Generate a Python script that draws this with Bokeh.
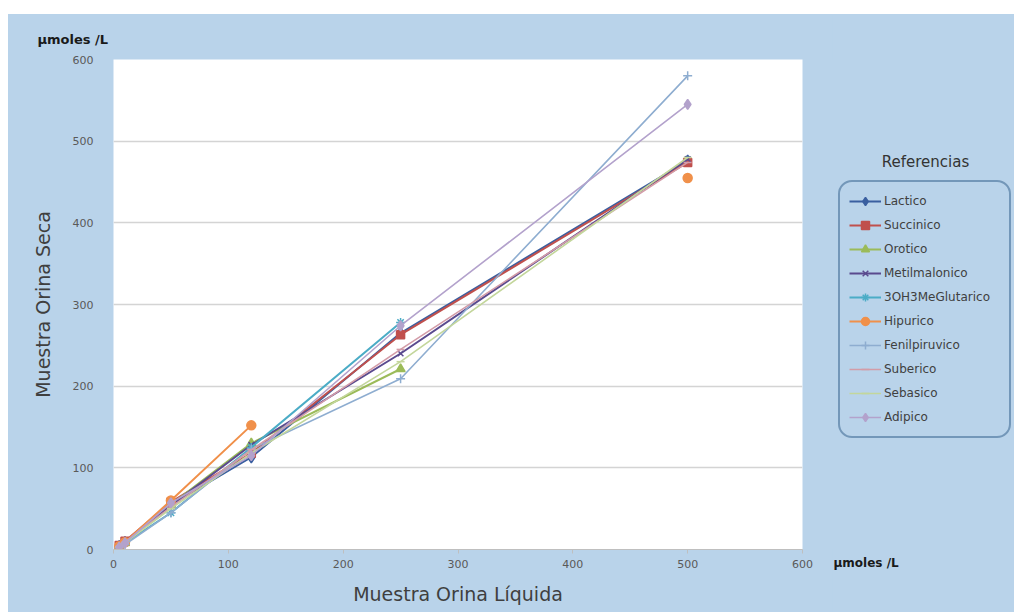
import numpy as np
from bokeh.plotting import figure
from bokeh.layouts import row
from bokeh.models import (Range1d, Legend, LegendItem, Label, ColumnDataSource,
                          FixedTicker)
from bokeh.embed import file_html
from bokeh.resources import INLINE

nan = np.nan

# ---- data ----
x_liquida = [5, 10, 50, 120, 250, 500]
lactico = [4, 9, 55, 113, 265, 476]
succinico = [5, 10, 58, 118, 263, 474]
orotico = [3, 8, 55, 130, 221, nan]
metilmalonico = [4, 9, 54, 128, 240, 478]
oh3meglutarico = [3, 8, 45, 125, 278, nan]
hipurico = [4, 9, 60, 152, nan, 455]
fenilpiruvico = [2, 6, 45, 123, 209, 580]
suberico = [4, 9, 52, 122, 245, 474]
sebasico = [3, 8, 50, 118, 230, 480]
adipico = [3, 8, 57, 115, 274, 545]

series_names = ["Lactico", "Succinico", "Orotico", "Metilmalonico", "3OH3MeGlutarico",
                "Hipurico", "Fenilpiruvico", "Suberico", "Sebasico", "Adipico"]
series_values = [lactico, succinico, orotico, metilmalonico, oh3meglutarico,
                 hipurico, fenilpiruvico, suberico, sebasico, adipico]
ticks = [0, 100, 200, 300, 400, 500, 600]
unit_text = "µmoles /L"

# ---- styles ----
colors = ["#3A5FA0", "#C0504D", "#9BBB59", "#5A4A8E", "#4BACC6",
          "#F0904A", "#8EADD0", "#D39CA8", "#C3D69B", "#B3A2CC"]
markers = ["diamond", "square", "triangle", "x", "asterisk",
           "circle", "cross", "dash", "dash", "diamond"]
msizes = [11, 8, 9, 8, 9, 9, 9, 8, 8, 10]
lwidths = [2, 2, 2, 2, 2, 2, 1.6, 1.6, 1.6, 1.6]

BG = "#B9D3EA"
H = 598

# ---------------- main chart ----------------
p = figure(width=824, height=H,
           x_range=Range1d(0, 600), y_range=Range1d(0, 600),
           output_backend="svg", toolbar_location=None,
           min_border_left=105, min_border_right=30,
           min_border_top=45, min_border_bottom=63,
           border_fill_color=BG, background_fill_color="white",
           outline_line_color=None)

p.title.text = unit_text
p.title.align = "left"
p.title.offset = -76
p.title.standoff = 26
p.title.text_font = "DejaVu Sans"
p.title.text_font_size = "13px"
p.title.text_font_style = "bold"
p.title.text_color = "#1A1A1A"

for ax in (p.xaxis[0], p.yaxis[0]):
    ax.ticker = FixedTicker(ticks=ticks)
    ax.minor_tick_line_color = None
    ax.major_label_text_font = "DejaVu Sans"
    ax.major_label_text_font_size = "11px"
    ax.major_label_text_color = "#595959"
    ax.axis_label_text_font = "DejaVu Sans"
    ax.axis_label_text_font_size = "19px"
    ax.axis_label_text_font_style = "normal"
    ax.axis_label_text_color = "#3F3F3F"

p.xaxis.axis_label = "Muestra Orina Líquida"
p.xaxis.axis_line_color = "#BFBFBF"
p.xaxis.major_tick_line_color = "#BFBFBF"
p.xaxis.major_tick_out = 4
p.xaxis.major_tick_in = 0
p.xaxis.major_label_standoff = 6
p.xaxis.axis_label_standoff = 12

p.yaxis.axis_label = "Muestra Orina Seca"
p.yaxis.axis_line_color = None
p.yaxis.major_tick_line_color = None
p.yaxis.major_label_standoff = 14
p.yaxis.axis_label_standoff = 16

p.xgrid.grid_line_color = None
p.ygrid.grid_line_color = "#D4D4D4"
p.ygrid.grid_line_width = 1.5

# ---------------- legend panel (right side) ----------------
q = figure(width=182, height=H,
           x_range=Range1d(1000, 1182), y_range=p.y_range,
           output_backend="svg", toolbar_location=None,
           min_border_left=0, min_border_right=0,
           min_border_top=0, min_border_bottom=0,
           x_axis_location=None, y_axis_location=None,
           border_fill_color=BG, background_fill_color=None,
           outline_line_color=None)
q.xgrid.grid_line_color = None
q.ygrid.grid_line_color = None

items = []
for name, vals, c, m, ms, lw in zip(series_names, series_values, colors, markers, msizes, lwidths):
    src = ColumnDataSource(dict(x=x_liquida, y=vals))
    p.line("x", "y", source=src, line_color=c, line_width=lw)
    p.scatter("x", "y", source=src, marker=m, size=ms, fill_color=c,
              line_color=c, line_width=1.5)
    # legend samples: same source, drawn in the side panel outside its visible range
    lr = q.line("x", "y", source=src, line_color=c, line_width=lw)
    sr = q.scatter("x", "y", source=src, marker=m, size=ms, fill_color=c,
                   line_color=c, line_width=1.5)
    items.append(LegendItem(label=name, renderers=[lr, sr]))

legend = Legend(items=items, location=(6, 111))
legend.label_text_font = "DejaVu Sans"
legend.label_text_font_size = "12px"
legend.label_text_color = "#404040"
legend.glyph_width = 32
legend.glyph_height = 20
legend.label_height = 20
legend.label_width = 116
legend.label_standoff = 3
legend.spacing = 4
legend.padding = 9
legend.margin = 0
legend.background_fill_alpha = 0
legend.border_line_color = "#2E5B88"
legend.border_line_width = 2
if "border_radius" in Legend.properties():
    legend.border_radius = 14
q.add_layout(legend)

q.add_layout(Label(x=1093, y=474, text="Referencias", text_align="center",
                   text_baseline="middle", text_font="DejaVu Sans",
                   text_font_size="15px", text_color="#333333"))
q.add_layout(Label(x=1001, y=-17, text=unit_text, text_align="left",
                   text_baseline="middle", text_font="DejaVu Sans",
                   text_font_size="12px", text_font_style="bold",
                   text_color="#1A1A1A"), "below")

layout = row(p, q, spacing=0, margin=(14, 0, 0, 8),
             styles={"background-color": BG})
open("out.html", "w").write(file_html(layout, INLINE))
